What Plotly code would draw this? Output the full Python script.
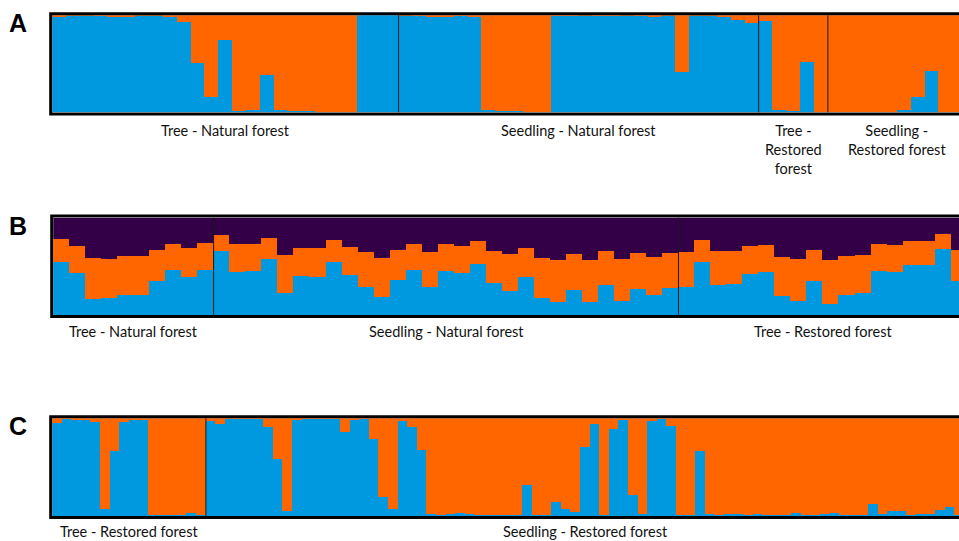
import plotly.graph_objects as go

W, H = 959, 541
BLUE = "#0099E0"
ORANGE = "#FF6600"
PURPLE = "#330048"

# ---------------- Panel A (K=2): blue membership per individual ----------------
a_labels = ["Tree - Natural forest", "Seedling - Natural forest",
            "Tree -<br>Restored<br>forest", "Seedling -<br>Restored forest"]
a_tree_nat = [0.985, 0.995, 0.995, 0.99, 0.985, 0.975, 0.995, 0.995, 0.985, 0.93,
              0.505, 0.15, 0.745, 0.014, 0.024, 0.378, 0.024, 0.015, 0.007, 0.0,
              0.0, 0.0, 1.0, 1.0, 1.0]
a_seed_nat = [0.995, 0.99, 0.985, 0.985, 0.99, 0.985, 0.02, 0.01, 0.013, 0.005,
              0.005, 0.99, 0.99, 0.995, 0.99, 0.99, 0.995, 0.99, 0.975, 0.995,
              0.41, 0.995, 0.995, 0.985, 0.95, 0.92]
a_tree_res = [0.935, 0.017, 0.01, 0.52, 0.0]
a_seed_res = [0.0, 0.0, 0.0, 0.0, 0.0, 0.024, 0.15, 0.426, 0.0, 0.0]

# ---------------- Panel B (K=3): blue and orange membership ----------------
b_labels = ["Tree - Natural forest", "Seedling - Natural forest", "Tree - Restored forest"]
b_tree_nat_blue = [0.55, 0.43, 0.17, 0.18, 0.21, 0.21, 0.35, 0.47, 0.39, 0.47]
b_tree_nat_orange = [0.23, 0.28, 0.42, 0.40, 0.40, 0.40, 0.32, 0.26, 0.30, 0.27]
b_seed_nat_blue = [0.66, 0.45, 0.46, 0.58, 0.23, 0.40, 0.39, 0.55, 0.41, 0.29,
                   0.19, 0.36, 0.47, 0.29, 0.46, 0.43, 0.53, 0.33, 0.25, 0.39,
                   0.18, 0.14, 0.26, 0.14, 0.31, 0.15, 0.27, 0.21, 0.28]
b_seed_nat_orange = [0.17, 0.28, 0.27, 0.21, 0.39, 0.29, 0.30, 0.22, 0.29, 0.36,
                     0.40, 0.31, 0.26, 0.36, 0.27, 0.28, 0.23, 0.33, 0.38, 0.30,
                     0.41, 0.43, 0.37, 0.43, 0.35, 0.43, 0.37, 0.39, 0.36]
b_tree_res_blue = [0.29, 0.55, 0.31, 0.32, 0.42, 0.44, 0.20, 0.15, 0.35, 0.12,
                   0.21, 0.23, 0.46, 0.44, 0.52, 0.52, 0.68, 0.35]
b_tree_res_orange = [0.36, 0.22, 0.35, 0.34, 0.29, 0.28, 0.40, 0.43, 0.32, 0.45,
                     0.40, 0.39, 0.27, 0.28, 0.24, 0.24, 0.16, 0.32]

# ---------------- Panel C (K=2): blue membership ----------------
c_labels = ["Tree - Restored forest", "Seedling - Restored forest"]
c_tree_res = [0.95, 0.99, 0.98, 0.98, 0.955, 0.07, 0.66, 0.96, 0.975, 0.975,
              0.01, 0.01, 0.005, 0.005, 0.03, 0.01]
c_seed_res = [0.965, 0.94, 0.99, 0.99, 0.99, 0.99, 0.91, 0.58, 0.045, 0.98,
              0.99, 0.99, 0.99, 0.99, 0.86, 0.98, 0.99, 0.785, 0.19, 0.07,
              0.965, 0.91, 0.67, 0.02, 0.01, 0.015, 0.03, 0.02, 0.01, 0.005,
              0.005, 0.005, 0.005, 0.31, 0.01, 0.005, 0.145, 0.07, 0.04, 0.70,
              0.94, 0.005, 0.89, 0.98, 0.21, 0.02, 0.965, 0.99, 0.92, 0.005,
              0.005, 0.66, 0.02, 0.005, 0.015, 0.015, 0.005, 0.02, 0.005, 0.005,
              0.005, 0.025, 0.005, 0.005, 0.02, 0.025, 0.005, 0.005, 0.005, 0.12,
              0.02, 0.05, 0.05, 0.01, 0.015, 0.015, 0.06, 0.09, 0.005]

# ---------------- layout geometry (pixels) ----------------
panels = {
    # inner left, inner top, inner bottom, bar width px
    "A": dict(left=52.3, top=15.3, bottom=112.3, bw=13.85),
    "B": dict(left=53.3, top=217.7, bottom=315.0, bw=16.03),
    "C": dict(left=52.3, top=418.3, bottom=516.0, bw=9.6),
}


def px(x):
    return x / W


def py(y):
    return 1 - y / H


fig = go.Figure()
shapes = []
annotations = []
LABEL_FONT = dict(family="Lato, Open Sans, sans-serif", size=14.5, color="#111")


def add_panel(idx, key, groups, labels, series, colors, label_ys):
    xa = "x" if idx == 1 else f"x{idx}"
    ya = "y" if idx == 1 else f"y{idx}"
    n = sum(len(g) for g in groups)
    xs = list(range(n))
    for vals, col in zip(series, colors):
        fig.add_trace(go.Bar(x=xs, y=vals, width=1.0, marker=dict(color=col, line=dict(width=0)),
                             xaxis=xa, yaxis=ya, showlegend=False, hoverinfo="skip"))
    g = panels[key]
    xr = [-0.5, -0.5 + (W - g["left"]) / g["bw"]]
    lay_x = "xaxis" if idx == 1 else f"xaxis{idx}"
    lay_y = "yaxis" if idx == 1 else f"yaxis{idx}"
    fig.layout[lay_x] = dict(domain=[px(g["left"]), 1], range=xr, visible=False,
                             anchor=ya, fixedrange=True)
    fig.layout[lay_y] = dict(domain=[py(g["bottom"]), py(g["top"])], range=[0, 1],
                             visible=False, anchor=xa, fixedrange=True)
    pos = 0
    for gi, grp in enumerate(groups):
        start = pos
        pos += len(grp)
        if gi < len(groups) - 1:
            shapes.append(dict(type="line", xref=xa, yref=f"{ya} domain", x0=pos - 0.5, x1=pos - 0.5,
                               y0=0, y1=1, line=dict(color="#1a1a1a", width=1), layer="above"))
        annotations.append(dict(x=(start + pos - 1) / 2, xref=xa, y=py(label_ys), yref="paper",
                                text=labels[gi], showarrow=False, xanchor="center", yanchor="top",
                                align="center", font=LABEL_FONT))
    # border (left, top, bottom; right side runs off the picture)
    shapes.append(dict(type="rect", xref="paper", yref="paper",
                       x0=px(g["left"] - 1.6), x1=px(W + 20),
                       y0=py(g["bottom"] + 1.6), y1=py(g["top"] - 1.6),
                       line=dict(color="black", width=3), fillcolor="rgba(0,0,0,0)", layer="above"))
    annotations.append(dict(x=px(18), y=py(g["top"] + 8), xref="paper", yref="paper", text=f"<b>{key}</b>",
                            showarrow=False, xanchor="center", yanchor="middle",
                            font=dict(family="Liberation Sans, Arial, sans-serif", size=25, color="black")))


a_groups = [a_tree_nat, a_seed_nat, a_tree_res, a_seed_res]
a_blue = a_tree_nat + a_seed_nat + a_tree_res + a_seed_res
a_orange = [1 - v for v in a_blue]
add_panel(1, "A", a_groups, a_labels, [a_blue, a_orange], [BLUE, ORANGE], 120)

b_groups = [b_tree_nat_blue, b_seed_nat_blue, b_tree_res_blue]
b_blue = b_tree_nat_blue + b_seed_nat_blue + b_tree_res_blue
b_orange = b_tree_nat_orange + b_seed_nat_orange + b_tree_res_orange
b_purple = [1 - b - o for b, o in zip(b_blue, b_orange)]
add_panel(2, "B", b_groups, b_labels, [b_blue, b_orange, b_purple], [BLUE, ORANGE, PURPLE], 321)

c_groups = [c_tree_res, c_seed_res]
c_blue = c_tree_res + c_seed_res
c_orange = [1 - v for v in c_blue]
add_panel(3, "C", c_groups, c_labels, [c_blue, c_orange], [BLUE, ORANGE], 520.5)

fig.update_layout(
    width=W, height=H, barmode="stack", bargap=0,
    margin=dict(l=0, r=0, t=0, b=0),
    paper_bgcolor="white", plot_bgcolor="white",
    shapes=shapes, annotations=annotations,
)

fig.write_html("out.html", config={"displayModeBar": False},
               post_script="document.body.style.margin='0';document.body.style.overflow='hidden';")
